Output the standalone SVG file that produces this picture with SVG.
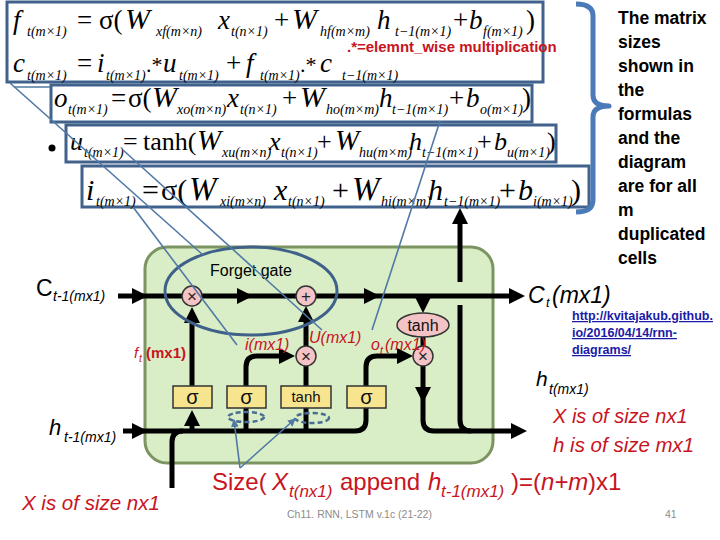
<svg xmlns="http://www.w3.org/2000/svg" width="720" height="540" viewBox="0 0 720 540">
<defs>
<style>
.fb{fill:none;stroke:#41628c;stroke-width:3}
.m{font-family:"Liberation Serif","Times New Roman",serif;font-size:27px;fill:#000}
.mu{font-family:"Liberation Serif","Times New Roman",serif;font-size:26px;fill:#000}
.mi{font-family:"Liberation Serif","Times New Roman",serif;font-size:30px;fill:#000}
.v{font-style:italic}
.s{font-style:italic;font-size:14px}
.bl{fill:none;stroke:#000;stroke-width:5}
.ar{marker-end:url(#ah)}
.thin{fill:none;stroke:#5079a6;stroke-width:1.6}
.pk{fill:#f3c3c6;stroke:#333;stroke-width:1.5}
.yb{fill:#f7e48f;stroke:#333;stroke-width:1.5}
.sym{font-family:"Liberation Sans",Arial,sans-serif;font-size:17px;fill:#222;text-anchor:middle}
.gt{font-family:"Liberation Sans",Arial,sans-serif;fill:#111;text-anchor:middle}
.red{fill:#c8141e;font-family:"Liberation Sans",Arial,sans-serif}
.it{font-style:italic}
.lab{font-family:"Liberation Sans",Arial,sans-serif;fill:#000}
.note{font-family:"Liberation Sans",Arial,sans-serif;font-size:17.5px;font-weight:bold;fill:#000}
.url{font-family:"Liberation Sans",Arial,sans-serif;font-size:12.5px;font-weight:bold;fill:#1a1aa6;text-decoration:underline}
.foot{font-family:"Liberation Sans",Arial,sans-serif;font-size:10.5px;fill:#8c8c8c}
.dash{fill:none;stroke:#4a6d94;stroke-width:2.5;stroke-dasharray:5 3}
</style>
<marker id="ah" viewBox="0 0 16 16" markerWidth="16" markerHeight="16" markerUnits="userSpaceOnUse" refX="2" refY="8" orient="auto"><path d="M0,0 L16,8 L0,16 z" fill="#000"/></marker>
<marker id="bh" viewBox="0 0 8 8" markerWidth="8" markerHeight="8" markerUnits="userSpaceOnUse" refX="7" refY="4" orient="auto"><path d="M0,0 L8,4 L0,8 z" fill="#5079a6"/></marker>
</defs>
<rect width="720" height="540" fill="#fff"/>

<g id="eq-fc">
<rect class="fb" x="7" y="2" width="536" height="80"/>
<text class="m"><tspan x="13" y="29" class="v">f</tspan><tspan x="27" y="36" class="s">t(m×1)</tspan><tspan x="77" y="29">=</tspan><tspan x="99" y="29">σ(</tspan><tspan x="125" y="29" class="v" font-size="30">W</tspan><tspan x="156" y="36" class="s">xf(m×n)</tspan><tspan x="218" y="29" class="v">x</tspan><tspan x="231" y="36" class="s">t(n×1)</tspan><tspan x="274" y="29">+</tspan><tspan x="292" y="29" class="v" font-size="30">W</tspan><tspan x="320" y="36" class="s">hf(m×m)</tspan><tspan x="377" y="29" class="v">h</tspan><tspan x="395" y="36" class="s">t−1(m×1)</tspan><tspan x="453" y="29">+</tspan><tspan x="469" y="29" class="v">b</tspan><tspan x="483" y="36" class="s">f(m×1)</tspan><tspan x="526" y="29">)</tspan></text>
<text class="m"><tspan x="13" y="72" class="v">c</tspan><tspan x="27" y="80" class="s">t(m×1)</tspan><tspan x="77" y="72">=</tspan><tspan x="97" y="72" class="v">i</tspan><tspan x="106" y="80" class="s">t(m×1)</tspan><tspan x="146" y="72" font-size="22">.*</tspan><tspan x="163" y="72" class="v">u</tspan><tspan x="179" y="80" class="s">t(m×1)</tspan><tspan x="226" y="72">+</tspan><tspan x="246" y="72" class="v">f</tspan><tspan x="260" y="80" class="s">t(m×1)</tspan><tspan x="300" y="72" font-size="22">.*</tspan><tspan x="320" y="72" class="v">c</tspan><tspan x="342" y="80" class="s">t−1(m×1)</tspan></text>
<text class="red" x="347" y="52" font-size="15" font-weight="bold">.*=elemnt_wise multiplication</text>
</g>

<g id="eq-o">
<rect class="fb" x="51" y="85" width="481" height="37"/>
<text class="m"><tspan x="54" y="107" class="v">o</tspan><tspan x="68" y="114" class="s">t(m×1)</tspan><tspan x="111" y="107">=</tspan><tspan x="128" y="107">σ(</tspan><tspan x="152" y="107" class="v" font-size="30">W</tspan><tspan x="177" y="114" class="s">xo(m×n)</tspan><tspan x="227" y="107" class="v">x</tspan><tspan x="240" y="114" class="s">t(n×1)</tspan><tspan x="282" y="107">+</tspan><tspan x="300" y="107" class="v" font-size="30">W</tspan><tspan x="326" y="114" class="s" font-size="13">ho(m×m)</tspan><tspan x="379" y="107" class="v">h</tspan><tspan x="392" y="114" class="s" font-size="13">t−1(m×1)</tspan><tspan x="449" y="107">+</tspan><tspan x="466" y="107" class="v">b</tspan><tspan x="480" y="114" class="s" font-size="12.5">o(m×1)</tspan><tspan x="522" y="107">)</tspan></text>
</g>

<g id="eq-u">
<circle cx="52" cy="148" r="3.5" fill="#000"/>
<rect class="fb" x="66" y="125" width="490" height="37"/>
<text class="mu"><tspan x="70" y="150" class="v">u</tspan><tspan x="84" y="157" class="s" font-size="12">t(m×1)</tspan><tspan x="123" y="150">=</tspan><tspan x="143" y="150">tanh(</tspan><tspan x="197" y="150" class="v" font-size="29">W</tspan><tspan x="222" y="157" class="s" font-size="12">xu(m×n)</tspan><tspan x="269" y="150" class="v">x</tspan><tspan x="281" y="157" class="s" font-size="12">t(n×1)</tspan><tspan x="317" y="150">+</tspan><tspan x="335" y="150" class="v" font-size="29">W</tspan><tspan x="359" y="157" class="s" font-size="12">hu(m×m)</tspan><tspan x="409" y="150" class="v">h</tspan><tspan x="422" y="157" class="s" font-size="12">t−1(m×1)</tspan><tspan x="477" y="150">+</tspan><tspan x="494" y="150" class="v">b</tspan><tspan x="507" y="157" class="s" font-size="12">u(m×1)</tspan><tspan x="547" y="150">)</tspan></text>
</g>

<g id="eq-i">
<rect class="fb" x="82" y="166" width="507" height="41"/>
<text class="mi"><tspan x="86" y="200" class="v">i</tspan><tspan x="96" y="206" class="s" font-size="15">t(m×1)</tspan><tspan x="142" y="200">=</tspan><tspan x="161" y="200">σ(</tspan><tspan x="189" y="200" class="v" font-size="33">W</tspan><tspan x="220" y="206" class="s" font-size="15">xi(m×n)</tspan><tspan x="274" y="200" class="v">x</tspan><tspan x="288" y="206" class="s" font-size="15">t(n×1)</tspan><tspan x="332" y="200">+</tspan><tspan x="352" y="200" class="v" font-size="33">W</tspan><tspan x="381" y="206" class="s" font-size="13">hi(m×m)</tspan><tspan x="428" y="200" class="v">h</tspan><tspan x="444" y="206" class="s" font-size="13">t−1(m×1)</tspan><tspan x="499" y="200">+</tspan><tspan x="518" y="200" class="v">b</tspan><tspan x="533" y="206" class="s" font-size="13">i(m×1)</tspan><tspan x="571" y="200">)</tspan></text>
</g>

<g id="brace">
<path d="M576,4 Q593,4 593,16 V95 Q593,106 609,106 Q593,106 593,117 V200 Q593,212 576,212" fill="none" stroke="#4a7ab8" stroke-width="5" stroke-linejoin="round"/>
</g>

<g id="note">
<text class="note"><tspan x="618" y="24">The matrix</tspan><tspan x="618" y="48">sizes</tspan><tspan x="618" y="72">shown in</tspan><tspan x="618" y="96">the</tspan><tspan x="618" y="120">formulas</tspan><tspan x="618" y="144">and the</tspan><tspan x="618" y="168">diagram</tspan><tspan x="618" y="192">are for all</tspan><tspan x="618" y="216">m</tspan><tspan x="618" y="240">duplicated</tspan><tspan x="618" y="264">cells</tspan></text>
</g>

<g id="cell">
<rect x="145" y="247" width="348" height="216" rx="22" fill="#d9eec6" stroke="#7b9461" stroke-width="3"/>
</g>

<g id="connectors">
<path class="bl ar" d="M118,296 H134"/>
<path class="bl" d="M134,296 H182"/>
<path class="bl ar" d="M202,296 H239"/>
<path class="bl" d="M239,296 H296"/>
<path class="bl ar" d="M316,296 H366"/>
<path class="bl ar" d="M366,296 H511"/>
<path class="bl ar" d="M423,296 V299"/>
<path class="bl" d="M423,337 V346"/>
<path class="bl ar" d="M423,366 V389"/>
<path class="bl ar" d="M423,389 V420 Q423,431 434,431 H513"/>
<path class="bl" d="M460,305 V420 Q460,431 471,431"/>
<path class="bl ar" d="M460,282 V222"/>
<path class="bl ar" d="M123,431 H134"/>
<path class="bl" d="M134,431 H355 Q366,431 366,420 V408"/>
<path class="bl" d="M172,488 V442 Q172,431 183,431"/>
<path class="bl ar" d="M192,431 V424"/>
<path class="bl ar" d="M192,386 V321"/>
<path class="bl" d="M246,431 V408"/>
<path class="bl ar" d="M246,386 V367 Q246,356 257,356 H281"/>
<path class="bl" d="M306,431 V408"/>
<path class="bl" d="M306,386 V366"/>
<path class="bl ar" d="M306,346 V320"/>
<path class="bl ar" d="M366,386 V367 Q366,356 377,356 H399"/>
</g>

<g id="op-forget-mul"><circle class="pk" cx="192" cy="296" r="10"/><text class="sym" x="192" y="302">×</text></g>
<g id="op-add"><circle class="pk" cx="306" cy="296" r="10"/><text class="sym" x="306" y="302">+</text></g>
<g id="op-input-mul"><circle class="pk" cx="306" cy="356" r="10"/><text class="sym" x="306" y="362">×</text></g>
<g id="op-output-mul"><circle class="pk" cx="423" cy="356" r="10"/><text class="sym" x="423" y="362">×</text></g>
<g id="op-tanh"><ellipse class="pk" cx="423" cy="325" rx="26" ry="12"/><text class="gt" x="423" y="331" font-size="16">tanh</text></g>

<g id="gate-f"><rect class="yb" x="173" y="386" width="39" height="22"/><text class="gt" x="192.5" y="404" font-size="20">σ</text></g>
<g id="gate-i"><rect class="yb" x="227" y="386" width="39" height="22"/><text class="gt" x="246.5" y="404" font-size="20">σ</text></g>
<g id="gate-u"><rect class="yb" x="281" y="386" width="50" height="22"/><text class="gt" x="306" y="402" font-size="15">tanh</text></g>
<g id="gate-o"><rect class="yb" x="347" y="386" width="39" height="22"/><text class="gt" x="366.5" y="404" font-size="20">σ</text></g>

<g id="labels">
<text class="lab" x="210" y="276" font-size="16">Forget gate</text>
<text class="lab"><tspan x="36" y="296" font-size="23">C</tspan><tspan x="53" y="301" font-size="14" class="it">t-1(mx1)</tspan></text>
<text class="lab it"><tspan x="528" y="303" font-size="23">C</tspan><tspan x="546" y="307" font-size="13">t</tspan><tspan x="552" y="303" font-size="23">(mx1)</tspan></text>
<text class="lab it"><tspan x="49" y="435" font-size="22">h</tspan><tspan x="64" y="442" font-size="14">t-1(mx1)</tspan></text>
<text class="lab it"><tspan x="536" y="386" font-size="21">h</tspan><tspan x="549" y="394" font-size="14">t(mx1)</tspan></text>
<text class="red"><tspan x="134" y="358" font-size="15" class="it">f</tspan><tspan x="139" y="362" font-size="10" class="it">t</tspan><tspan x="146" y="358" font-size="15" font-weight="bold">(mx1)</tspan></text>
<text class="red it" x="245" y="350" font-size="16">i(mx1)</text>
<text class="red it" x="309" y="343" font-size="16">U(mx1)</text>
<text class="red it"><tspan x="371" y="350" font-size="16">o</tspan><tspan x="380" y="354" font-size="11">t</tspan><tspan x="385" y="350" font-size="16">(mx1)</tspan></text>
<text class="red it" x="553" y="423" font-size="20">X is of size nx1</text>
<text class="red it" x="553" y="452" font-size="20.5">h is of size mx1</text>
<text class="red it" x="22" y="510" font-size="20.5">X is of size nx1</text>
<text class="red" font-size="24"><tspan x="212" y="490">Size(</tspan><tspan x="272" y="490" class="it">X</tspan><tspan x="289" y="497" font-size="17" class="it">t(nx1)</tspan><tspan x="340" y="490">append</tspan><tspan x="428" y="490" class="it">h</tspan><tspan x="441" y="497" font-size="17" class="it">t-1(mx1)</tspan><tspan x="511" y="490">)=(</tspan><tspan x="541" y="490" class="it">n+m</tspan><tspan x="588" y="490">)x1</tspan></text>
<text class="url"><tspan x="572" y="320">http://kvitajakub.github.</tspan><tspan x="572" y="337">io/2016/04/14/rnn-</tspan><tspan x="572" y="354">diagrams/</tspan></text>
<text class="foot" x="287" y="518">Ch11. RNN, LSTM v.1c (21-22)</text>
<text class="foot" x="665" y="518">41</text>
</g>

<g id="forget-gate-ellipse"><ellipse cx="251" cy="291" rx="86" ry="44" fill="none" stroke="#3f6189" stroke-width="3"/></g>
<g id="concat-marks">
<ellipse class="dash" cx="246" cy="417" rx="18" ry="5"/>
<ellipse class="dash" cx="312" cy="418" rx="17" ry="5"/>
</g>

<g id="pointers">
<path class="thin" d="M14,87 H50"/>
<path class="thin" d="M10,83 L203,255"/>
<path class="thin" d="M123,150 L322,330"/>
<path class="thin" d="M133,207 L237,345"/>
<path class="thin" d="M440,121 L372,330"/>
<path class="thin" d="M240,468 L234,420" marker-end="url(#bh)"/>
<path class="thin" d="M240,468 L295,419" marker-end="url(#bh)"/>
</g>
</svg>
